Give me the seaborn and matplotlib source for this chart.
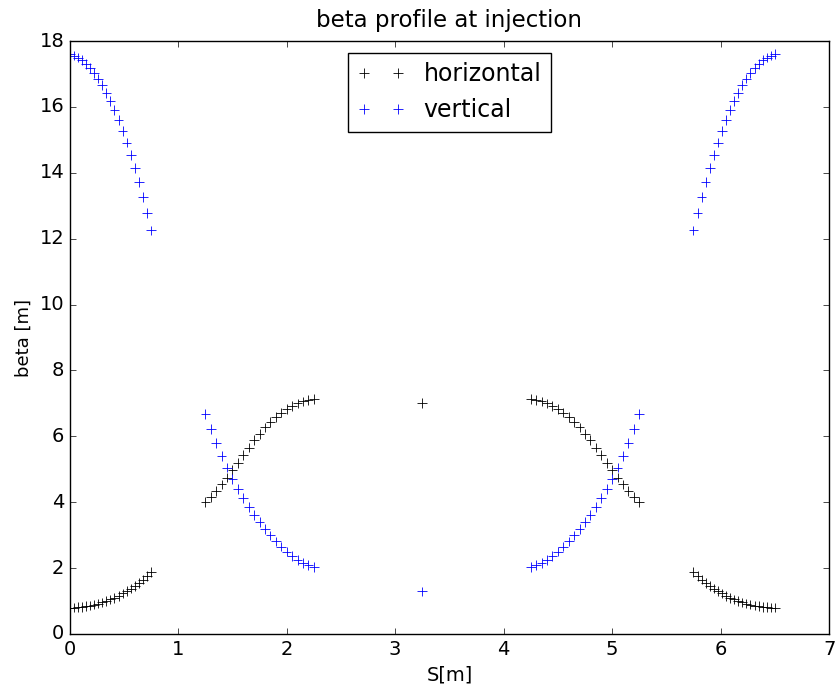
import matplotlib
matplotlib.use("Agg")
import matplotlib.pyplot as plt
import seaborn as sns
import pandas as pd

# ---- data ----
s_seg1 = [0.0, 0.0375, 0.075, 0.1125, 0.15, 0.1875, 0.225, 0.2625, 0.3, 0.3375, 0.375,
          0.4125, 0.45, 0.4875, 0.525, 0.5625, 0.6, 0.6375, 0.675, 0.7125, 0.75]
s_seg2 = [1.25, 1.30, 1.35, 1.40, 1.45, 1.50, 1.55, 1.60, 1.65, 1.70, 1.75,
          1.80, 1.85, 1.90, 1.95, 2.00, 2.05, 2.10, 2.15, 2.20, 2.25]
s_mid = [3.25]
s_seg3 = [4.25, 4.30, 4.35, 4.40, 4.45, 4.50, 4.55, 4.60, 4.65, 4.70, 4.75,
          4.80, 4.85, 4.90, 4.95, 5.00, 5.05, 5.10, 5.15, 5.20, 5.25]
s_seg4 = [5.75, 5.7875, 5.825, 5.8625, 5.9, 5.9375, 5.975, 6.0125, 6.05, 6.0875, 6.125,
          6.1625, 6.2, 6.2375, 6.275, 6.3125, 6.35, 6.3875, 6.425, 6.4625, 6.5]

bx_seg1 = [0.80, 0.80, 0.81, 0.82, 0.84, 0.86, 0.89, 0.92, 0.96, 1.00, 1.05,
           1.10, 1.16, 1.23, 1.30, 1.38, 1.46, 1.55, 1.65, 1.76, 1.88]
bx_seg2 = [4.00, 4.16, 4.34, 4.54, 4.75, 4.97, 5.20, 5.43, 5.66, 5.88, 6.08,
           6.27, 6.44, 6.59, 6.72, 6.83, 6.92, 7.00, 7.06, 7.10, 7.13]
bx_mid = [7.01]
bx_seg3 = [7.13, 7.10, 7.06, 7.00, 6.92, 6.83, 6.72, 6.59, 6.44, 6.27, 6.08,
           5.88, 5.66, 5.43, 5.20, 4.97, 4.75, 4.54, 4.34, 4.16, 4.00]
bx_seg4 = [1.88, 1.76, 1.65, 1.55, 1.46, 1.38, 1.30, 1.23, 1.16, 1.10, 1.05,
           1.00, 0.96, 0.92, 0.89, 0.86, 0.84, 0.82, 0.81, 0.80, 0.80]

by_seg1 = [17.60, 17.56, 17.50, 17.42, 17.31, 17.18, 17.03, 16.86, 16.66, 16.43, 16.18,
           15.90, 15.60, 15.27, 14.92, 14.55, 14.15, 13.72, 13.26, 12.78, 12.25]
by_seg2 = [6.68, 6.22, 5.80, 5.41, 5.05, 4.71, 4.40, 4.12, 3.86, 3.61, 3.39,
           3.18, 2.99, 2.81, 2.65, 2.50, 2.37, 2.25, 2.16, 2.09, 2.04]
by_mid = [1.29]
by_seg3 = [2.04, 2.09, 2.16, 2.25, 2.37, 2.50, 2.65, 2.81, 2.99, 3.18, 3.39,
           3.61, 3.86, 4.12, 4.40, 4.71, 5.05, 5.41, 5.80, 6.22, 6.68]
by_seg4 = [12.25, 12.78, 13.26, 13.72, 14.15, 14.55, 14.92, 15.27, 15.60, 15.90, 16.18,
           16.43, 16.66, 16.86, 17.03, 17.18, 17.31, 17.42, 17.50, 17.56, 17.60]

series_names = ["horizontal", "vertical"]
series_colors = ["black", "blue"]

s_all = s_seg1 + s_seg2 + s_mid + s_seg3 + s_seg4
bx_all = bx_seg1 + bx_seg2 + bx_mid + bx_seg3 + bx_seg4
by_all = by_seg1 + by_seg2 + by_mid + by_seg3 + by_seg4

df = pd.DataFrame({
    "s": s_all + s_all,
    "beta": bx_all + by_all,
    "plane": [series_names[0]] * len(s_all) + [series_names[1]] * len(s_all),
})

# ---- style ----
plt.style.use("classic")
plt.rcParams["figure.facecolor"] = "white"
plt.rcParams["savefig.facecolor"] = "white"
plt.rcParams["font.family"] = ["DejaVu Sans"]

fig = plt.figure(figsize=(8.4, 6.85), dpi=100)
ax = fig.add_axes([0.083, 0.0745, 0.904, 0.8655])

sns.scatterplot(data=df, x="s", y="beta", hue="plane",
                palette=dict(zip(series_names, series_colors)),
                marker="+", s=48, linewidth=0.6, ax=ax, legend=False)

ax.set_xlim(0, 7)
ax.set_ylim(0, 18)
ax.set_xticks(range(0, 8))
ax.set_yticks(range(0, 19, 2))
ax.set_title("beta profile at injection", fontsize=16.5, pad=10)
ax.set_xlabel("S[m]", fontsize=14)
ax.set_ylabel("beta [m]", fontsize=13)
ax.tick_params(labelsize=14)

handles = [plt.Line2D([], [], linestyle="none", marker="+", color=c,
                      markeredgecolor=c, markerfacecolor=c,
                      markersize=7, markeredgewidth=0.6) for c in series_colors]
ax.legend(handles, series_names, loc="upper center", numpoints=2,
          fontsize=17, frameon=True, fancybox=False, borderaxespad=0.5)

fig.savefig("out.png", dpi=100)
